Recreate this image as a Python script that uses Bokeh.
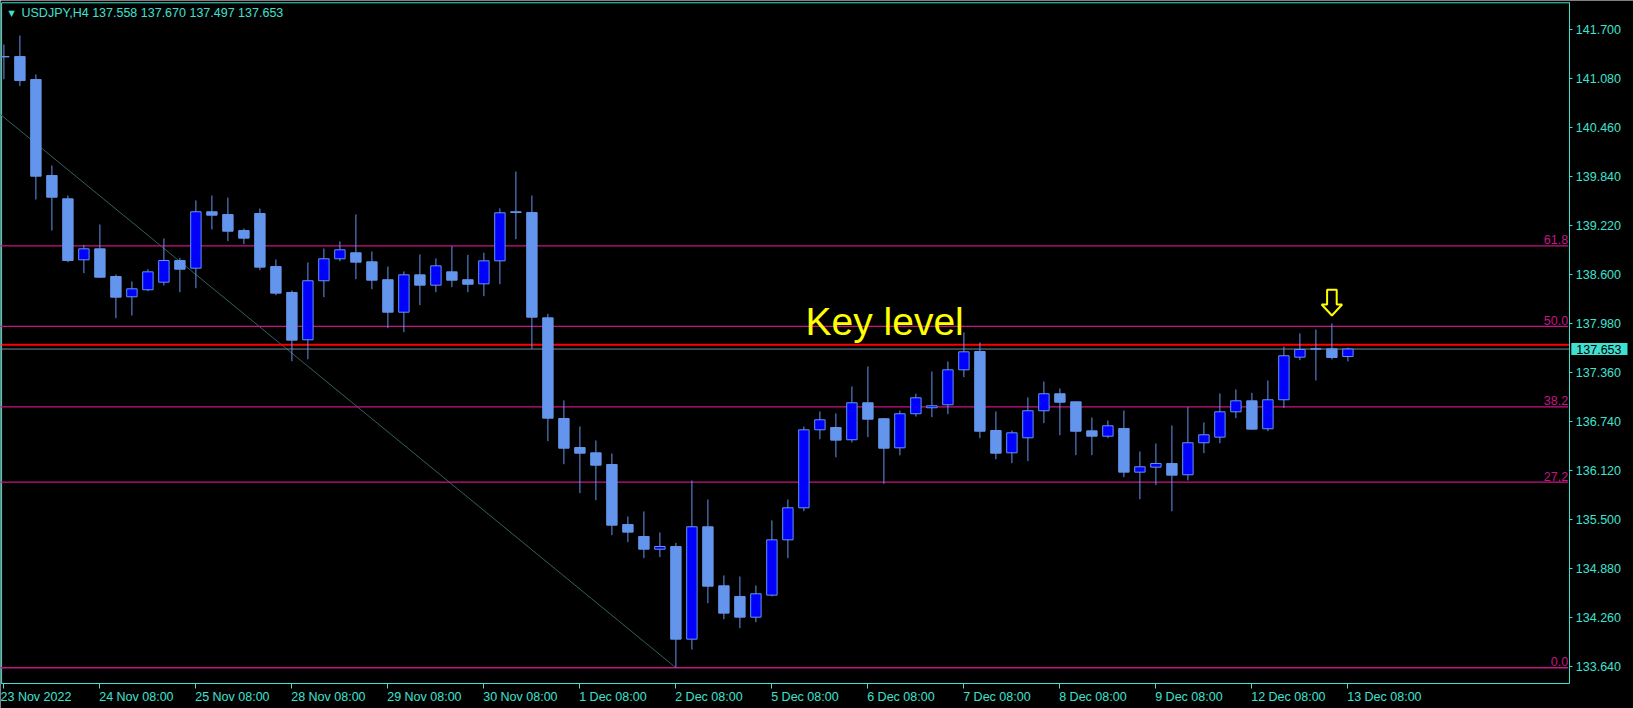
from bokeh.plotting import figure
from bokeh.models import Range1d, FixedTicker, Label, NumeralTickFormatter, ColumnDataSource
from bokeh.embed import file_html
from bokeh.resources import INLINE

# ---------------- data ----------------
tick_bars = [0, 6, 12, 18, 24, 30, 36, 42, 48, 54, 60, 66, 72, 78, 84]
tick_labels = ["23 Nov 2022", "24 Nov 08:00", "25 Nov 08:00", "28 Nov 08:00",
               "29 Nov 08:00", "30 Nov 08:00", "1 Dec 08:00", "2 Dec 08:00",
               "5 Dec 08:00", "6 Dec 08:00", "7 Dec 08:00", "8 Dec 08:00",
               "9 Dec 08:00", "12 Dec 08:00", "13 Dec 08:00"]

opens = [141.354, 141.354, 141.064, 139.849, 139.554, 138.782, 138.921, 138.571, 138.314, 138.403,
         138.499, 138.773, 138.676, 139.390, 139.355, 139.153, 139.368, 138.697, 138.369, 137.770,
         138.517, 138.795, 138.871, 138.757, 138.530, 138.119, 138.592, 138.461, 138.630, 138.530,
         138.478, 138.769, 139.390, 139.381, 138.048, 136.774, 136.407, 136.340, 136.192, 135.433,
         135.281, 135.120, 135.154, 133.982, 135.404, 134.657, 134.522, 134.260, 134.539, 135.239,
         135.644, 136.631, 136.660, 136.505, 136.973, 136.771, 136.403, 136.834, 136.910, 136.948,
         137.390, 137.622, 136.622, 136.340, 136.530, 136.872, 137.087, 136.985, 136.618, 136.550,
         136.648, 136.095, 136.158, 136.205, 136.062, 136.467, 136.538, 136.859, 136.998, 136.644,
         137.011, 137.550, 137.656, 137.656, 137.558]
highs = [141.506, 141.620, 141.127, 139.975, 139.596, 138.972, 139.229, 138.596, 138.508, 138.663,
         139.052, 138.807, 139.533, 139.596, 139.570, 139.178, 139.431, 138.786, 138.394, 138.748,
         138.925, 139.014, 139.355, 138.887, 138.697, 138.634, 138.849, 138.799, 138.954, 138.845,
         138.871, 139.431, 139.899, 139.596, 138.099, 137.002, 136.673, 136.496, 136.331, 135.534,
         135.598, 135.332, 135.201, 135.990, 135.749, 134.788, 134.775, 134.661, 135.484, 135.749,
         136.673, 136.863, 136.838, 137.179, 137.432, 136.780, 136.875, 137.087, 137.369, 137.495,
         137.862, 137.736, 136.863, 136.622, 137.040, 137.242, 137.154, 136.990, 136.787, 136.749,
         136.875, 136.357, 136.458, 136.686, 136.917, 136.724, 137.091, 137.141, 137.099, 137.255,
         137.685, 137.850, 137.900, 137.976, 137.670]
lows = [141.067, 140.980, 139.545, 139.153, 138.752, 138.613, 138.554, 138.043, 138.077, 138.385,
        138.457, 138.372, 138.423, 139.166, 139.018, 138.980, 138.651, 138.334, 137.499, 137.524,
        138.309, 138.764, 138.537, 138.410, 137.917, 137.866, 138.208, 138.372, 138.436, 138.372,
        138.322, 138.473, 139.043, 137.656, 136.487, 136.196, 135.829, 135.740, 135.298, 135.209,
        135.007, 135.020, 133.620, 133.851, 134.437, 134.235, 134.121, 134.197, 134.522, 135.007,
        135.601, 136.512, 136.284, 136.471, 136.538, 135.948, 136.309, 136.799, 136.791, 136.829,
        137.297, 136.525, 136.259, 136.209, 136.234, 136.715, 136.563, 136.310, 136.310, 136.525,
        136.031, 135.753, 135.930, 135.601, 135.990, 136.335, 136.462, 136.778, 136.635, 136.613,
        136.910, 137.512, 137.255, 137.521, 137.497]
closes = [141.350, 141.050, 139.840, 139.574, 138.773, 138.921, 138.562, 138.309, 138.415, 138.630,
          138.773, 138.663, 139.390, 139.347, 139.144, 139.056, 138.689, 138.360, 137.765, 138.517,
          138.795, 138.909, 138.752, 138.524, 138.119, 138.592, 138.461, 138.706, 138.524, 138.473,
          138.769, 139.377, 139.380, 138.056, 136.778, 136.398, 136.335, 136.183, 135.424, 135.336,
          135.120, 135.154, 133.982, 135.404, 134.652, 134.311, 134.260, 134.556, 135.239, 135.644,
          136.631, 136.758, 136.500, 136.973, 136.765, 136.398, 136.834, 137.036, 136.935, 137.390,
          137.618, 136.613, 136.335, 136.593, 136.872, 137.087, 136.980, 136.613, 136.550, 136.682,
          136.095, 136.163, 136.205, 136.057, 136.467, 136.568, 136.859, 136.998, 136.639, 137.011,
          137.568, 137.647, 137.652, 137.546, 137.653]

price_ticks = [133.640, 134.260, 134.880, 135.500, 136.120, 136.740, 137.360,
               137.980, 138.600, 139.220, 139.840, 140.460, 141.080, 141.700]

fib_high, fib_high_bar = 142.26, -10.1
fib_low, fib_low_bar = 133.62, 42
fib_ratios = [0.0, 0.272, 0.382, 0.5, 0.618]
fib_names = ["0.0", "27,2", "38.2", "50.0", "61.8"]

key_level = 137.707
bid = 137.653
key_text = "Key level"
key_bar, key_price = 50.1, 137.846
arrow_bar = 83
header = "USDJPY,H4  137.558 137.670 137.497 137.653"

# ---------------- style / layout ----------------
TURQ = "#40E0D0"
CORN = "#6495ED"
BULL = "#0000FF"
FIB = "#C71585"
FONT = "Liberation Sans"
FSIZE = "12.5px"

W, H = 1633, 708
PX_BAR = 16.0            # pixels per bar
PX_PRICE = 79.03         # pixels per yen
X0 = -3.4 / PX_BAR
X1 = X0 + W / PX_BAR
Y1 = 141.7 + 28.7 / PX_PRICE
Y0 = Y1 - H / PX_PRICE

# chart frame (MT4 window border) in data units
BX0, BX1 = X0 + 1.1 / PX_BAR, X0 + 1569.3 / PX_BAR
BY1, BY0 = Y1 - 2.3 / PX_PRICE, Y1 - 683.3 / PX_PRICE
FIB_END = X0 + 1567.7 / PX_BAR

p = figure(width=W, height=H, x_range=Range1d(X0, X1), y_range=Range1d(Y0, Y1),
           y_axis_location="right", output_backend="svg", toolbar_location=None,
           background_fill_color="black", border_fill_color="black", min_border=0)
p.grid.visible = False
p.outline_line_color = None

for ax in (p.xaxis[0], p.yaxis[0]):
    ax.axis_line_color = TURQ
    ax.major_tick_line_color = TURQ
    ax.minor_tick_line_color = None
    ax.major_tick_in = 0
    ax.major_label_text_color = TURQ
    ax.major_label_text_font = FONT
    ax.major_label_text_font_size = FSIZE

# left-aligned date labels: pad with no-break spaces of equal width
CW = {" ": 0.278, ":": 0.278, "N": 0.722, "o": 0.556, "v": 0.5, "D": 0.722, "e": 0.556, "c": 0.5}


def padded(t):
    w = sum(CW.get(ch, 0.556) for ch in t)
    return "\u00a0" * int(round(w / 0.278)) + t


overrides = {}
for k, (b, t) in enumerate(zip(tick_bars, tick_labels)):
    overrides[b] = t if k == 0 else padded(t)

p.xaxis.ticker = FixedTicker(ticks=tick_bars)
p.xaxis.major_label_overrides = overrides
p.xaxis.fixed_location = BY0
p.xaxis.bounds = (BX0, BX1)
p.xaxis.major_tick_out = 5
p.xaxis.major_label_standoff = 1

p.yaxis.ticker = FixedTicker(ticks=price_ticks)
p.yaxis.formatter = NumeralTickFormatter(format="0.000")
p.yaxis.fixed_location = BX1
p.yaxis.bounds = (BY0, BY1)
p.yaxis.major_tick_out = 3
p.yaxis.major_label_standoff = 3

# window border (top and left)
p.segment(x0=[BX0, BX0], y0=[BY1, BY0], x1=[BX1, BX0], y1=[BY1, BY1], line_color=TURQ, line_width=1)

# fibonacci
p.segment(x0=[fib_high_bar], y0=[fib_high], x1=[fib_low_bar], y1=[fib_low],
          line_color="#35605C", line_width=1)
fib_levels = [fib_low + r * (fib_high - fib_low) for r in fib_ratios]
fib_src = ColumnDataSource(dict(x0=[fib_high_bar] * len(fib_levels), x1=[FIB_END] * len(fib_levels),
                                y=fib_levels))
p.segment(x0="x0", y0="y", x1="x1", y1="y", source=fib_src, line_color=FIB, line_width=1.3)
for lv, nm in zip(fib_levels, fib_names):
    p.add_layout(Label(x=FIB_END, y=lv, text=nm, text_align="right", text_baseline="alphabetic",
                       y_offset=6, text_color=FIB, text_font=FONT, text_font_size=FSIZE))

# key level & bid line
p.segment(x0=[BX0], y0=[bid], x1=[BX1], y1=[bid], line_color="#778899", line_width=1)
p.segment(x0=[BX0], y0=[key_level], x1=[BX1], y1=[key_level], line_color="#FF0000", line_width=2)

# candles
idx = list(range(len(opens)))
p.segment(x0=idx, y0=lows, x1=idx, y1=highs, line_color=CORN, line_width=1)
bull = [i for i in idx if closes[i] > opens[i]]
bear = [i for i in idx if closes[i] <= opens[i]]
p.vbar(x=bull, top=[closes[i] for i in bull], bottom=[opens[i] for i in bull], width=0.65,
       fill_color=BULL, line_color=CORN, line_width=1)
p.vbar(x=bear, top=[opens[i] for i in bear], bottom=[closes[i] for i in bear], width=0.65,
       fill_color=CORN, line_color=CORN, line_width=1)

# annotation text
p.add_layout(Label(x=key_bar, y=key_price, y_offset=12, text=key_text, text_color="#FFFF00",
                   text_font=FONT, text_font_size="39px", text_baseline="alphabetic"))

# down arrow above bar
hi = highs[arrow_bar]
ax_ = [arrow_bar - 0.3, arrow_bar + 0.3, arrow_bar + 0.3, arrow_bar + 0.64, arrow_bar,
       arrow_bar - 0.64, arrow_bar - 0.3]
ay_ = [hi + 0.427, hi + 0.427, hi + 0.241, hi + 0.241, hi + 0.102, hi + 0.241, hi + 0.241]
p.patch(ax_, ay_, fill_color="black", line_color="#FFFF00", line_width=2)

# header
p.add_layout(Label(x=11, y=H - 13, x_units="screen", y_units="screen", text="\u25BC",
                   text_align="center", text_baseline="alphabetic", text_color=TURQ,
                   text_font="DejaVu Sans", text_font_size="8px"))
p.add_layout(Label(x=21, y=H - 12.5, x_units="screen", y_units="screen", text=header,
                   text_baseline="alphabetic", text_color=TURQ, text_font=FONT,
                   text_font_size=FSIZE))

# current price box on the axis
p.add_layout(Label(x=BX1, x_offset=1.5, y=bid, text="%.3f" % bid, text_baseline="middle",
                   text_align="left", text_color="black", text_font=FONT, text_font_size=FSIZE,
                   background_fill_color=TURQ, padding=dict(left=5, right=6, top=2, bottom=1)))

open("out.html", "w").write(file_html(p, INLINE))
